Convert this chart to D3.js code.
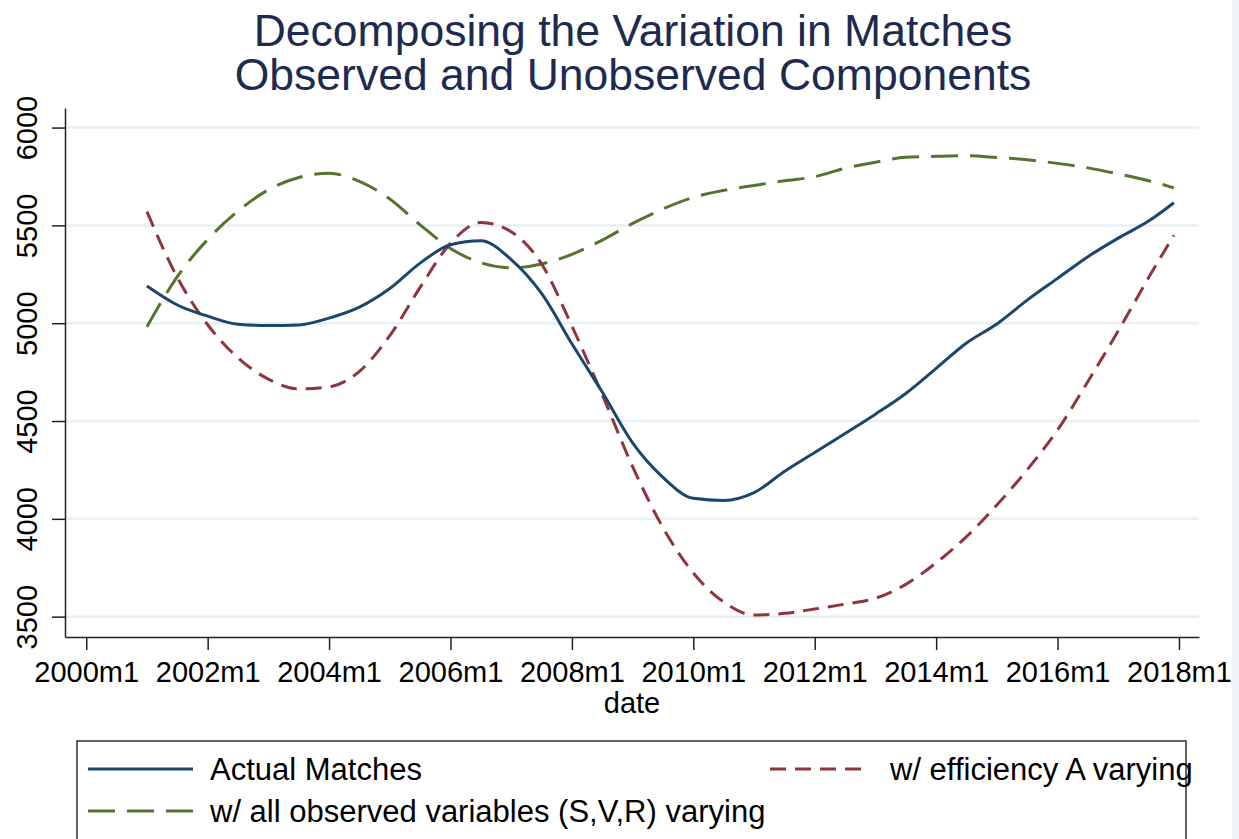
<!DOCTYPE html>
<html>
<head>
<meta charset="utf-8">
<script src="https://cdn.jsdelivr.net/npm/d3@7"></script>
<style>
  body { margin: 0; background: #fff; }
  svg { display: block; font-family: "Liberation Sans", Arial, sans-serif; }
</style>
</head>
<body>
<div class="chart"></div>
<script>
// chart values (half-yearly)
var dates = ["2001m1","2001m7","2002m1","2002m7","2003m1","2003m7","2004m1","2004m7",
  "2005m1","2005m7","2006m1","2006m7","2007m1","2007m7","2008m1","2008m7","2009m1","2009m7",
  "2010m1","2010m7","2011m1","2011m7","2012m1","2012m7","2013m1","2013m7","2014m1","2014m7",
  "2015m1","2015m7","2016m1","2016m7","2017m1","2017m7","2017m12"];

var actual = [5190,5093,5036,4995,4988,4991,5026,5082,5177,5307,5401,5421,5325,5152,4895,4648,
  4388,4212,4105,4094,4134,4242,4339,4436,4535,4641,4769,4899,4996,5118,5229,5340,5435,5522,5616];

var efficiency = [5570,5234,4992,4823,4714,4664,4674,4754,4936,5183,5408,5515,5467,5303,4985,4634,
  4267,3955,3723,3575,3508,3517,3539,3564,3594,3665,3775,3909,4071,4251,4454,4702,4961,5233,5450];

var observed = [4982,5238,5428,5573,5682,5745,5766,5725,5635,5503,5382,5309,5283,5303,5352,5425,
  5510,5584,5643,5679,5704,5728,5749,5792,5823,5848,5853,5856,5847,5835,5817,5794,5763,5728,5692];

var xTicks = ["2000m1","2002m1","2004m1","2006m1","2008m1","2010m1","2012m1","2014m1","2016m1","2018m1"];
var yTicks = [3500, 4000, 4500, 5000, 5500, 6000];
var titleLines = ["Decomposing the Variation in Matches", "Observed and Unobserved Components"];
var seriesNames = ["Actual Matches", "w/ efficiency A varying", "w/ all observed variables (S,V,R) varying"];

function toYear(s) {
  var p = s.split("m");
  return +p[0] + (+p[1] - 1) / 12;
}

var W = 1239, H = 839;
var svg = d3.select(".chart").append("svg")
    .attr("width", W)
    .attr("height", H);

// page edge on the right
svg.append("rect")
    .attr("x", 1232).attr("y", 0)
    .attr("width", 7).attr("height", H)
    .style("fill", "#f2f5f7");

var x = d3.scaleLinear()
    .domain([1999.65, 2018.33])
    .range([65, 1199]);

var y = d3.scaleLinear()
    .domain([3396, 6100])
    .range([637, 108]);

// gridlines
svg.append("g")
  .selectAll("line")
  .data(yTicks)
  .enter()
  .append("line")
    .attr("x1", 65)
    .attr("x2", 1199)
    .attr("y1", function (d) { return y(d); })
    .attr("y2", function (d) { return y(d); })
    .style("stroke", "#e9f0f2")
    .style("stroke-width", 2.5);

// y axis
var yAxis = svg.append("g")
    .attr("transform", "translate(65,0)")
    .call(d3.axisLeft(y).tickValues(yTicks).tickSize(13).tickSizeOuter(0).tickFormat(d3.format("d")));
yAxis.select(".domain").style("stroke", "#222").style("stroke-width", 1.5);
yAxis.selectAll(".tick line").style("stroke", "#222").style("stroke-width", 1.5);
yAxis.selectAll("text")
    .attr("transform", "rotate(-90)")
    .attr("x", 0)
    .attr("y", -28)
    .attr("dy", 0)
    .style("text-anchor", "middle")
    .style("font-size", "29px")
    .style("fill", "#000");

// x axis
var xAxis = svg.append("g")
    .attr("transform", "translate(0,637)")
    .call(d3.axisBottom(x)
      .tickValues(xTicks.map(toYear))
      .tickSize(13)
      .tickSizeOuter(0)
      .tickFormat(function (d, i) { return xTicks[i]; }));
xAxis.select(".domain").style("stroke", "#222").style("stroke-width", 1.5);
xAxis.selectAll(".tick line").style("stroke", "#222").style("stroke-width", 1.5);
xAxis.selectAll("text")
    .attr("y", 45)
    .attr("dy", 0)
    .style("font-size", "29px")
    .style("fill", "#000");

svg.append("text")
    .attr("x", 632)
    .attr("y", 713)
    .attr("text-anchor", "middle")
    .style("font-size", "29px")
    .text("date");

// title
svg.append("g")
  .selectAll("text")
  .data(titleLines)
  .enter()
  .append("text")
    .attr("x", 633)
    .attr("y", function (d, i) { return 46 + i * 44; })
    .attr("text-anchor", "middle")
    .style("font-size", "44.5px")
    .style("fill", "#1e2b50")
    .text(function (d) { return d; });

// series
var series = [
  { name: seriesNames[0], values: actual, color: "#1a476f", dash: null },
  { name: seriesNames[1], values: efficiency, color: "#90353b", dash: "16,9" },
  { name: seriesNames[2], values: observed, color: "#55752f", dash: "27,12" }
];

var line = d3.line()
    .x(function (d) { return x(d.t); })
    .y(function (d) { return y(d.v); })
    .curve(d3.curveMonotoneX);

svg.append("g")
  .selectAll("path")
  .data(series.slice().reverse())
  .enter()
  .append("path")
    .attr("d", function (s) {
      return line(s.values.map(function (v, i) { return { t: toYear(dates[i]), v: v }; }));
    })
    .style("fill", "none")
    .style("stroke", function (s) { return s.color; })
    .style("stroke-width", 3)
    .style("stroke-dasharray", function (s) { return s.dash; });

// legend
svg.append("rect")
    .attr("x", 77)
    .attr("y", 741)
    .attr("width", 1109)
    .attr("height", 120)
    .style("fill", "none")
    .style("stroke", "#333")
    .style("stroke-width", 1.5);

var legendPos = [
  { x: 88, y: 769 },
  { x: 770, y: 769 },
  { x: 88, y: 811 }
];

var leg = svg.append("g")
  .selectAll("g")
  .data(series)
  .enter()
  .append("g")
    .attr("transform", function (d, i) { return "translate(" + legendPos[i].x + "," + legendPos[i].y + ")"; });

leg.append("line")
    .attr("x1", 0)
    .attr("x2", function (d, i) { return i == 1 ? 100 : 105; })
    .style("stroke", function (d) { return d.color; })
    .style("stroke-width", 3)
    .style("stroke-dasharray", function (d) { return d.dash; });

leg.append("text")
    .attr("x", function (d, i) { return i == 1 ? 120 : 122; })
    .attr("y", 11)
    .style("font-size", "31px")
    .style("fill", "#000")
    .text(function (d) { return d.name; });
</script>
</body>
</html>
